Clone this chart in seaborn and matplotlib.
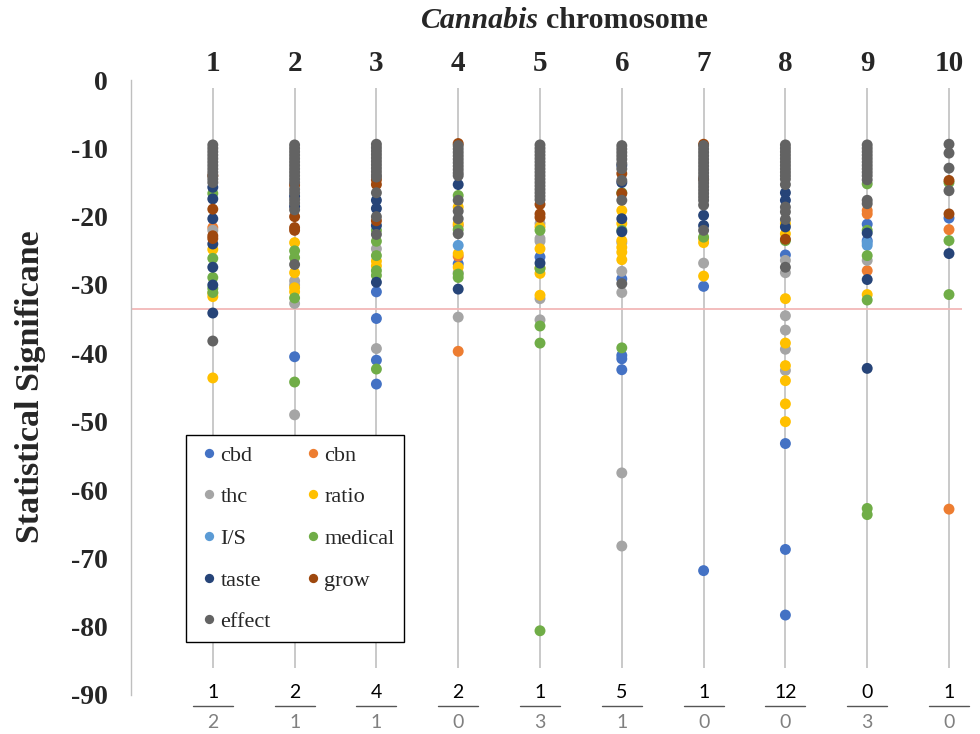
import matplotlib
matplotlib.use("Agg")
import matplotlib.pyplot as plt
import seaborn as sns
import pandas as pd
from matplotlib import transforms
from matplotlib.lines import Line2D

# ---------------- data ----------------
chromosomes = [1, 2, 3, 4, 5, 6, 7, 8, 9, 10]
series_names = ["cbd", "cbn", "thc", "ratio", "I/S", "medical", "taste", "grow", "effect"]
series_colors = ["#4472C4", "#ED7D31", "#A5A5A5", "#FFC000", "#5B9BD5",
                 "#70AD47", "#264478", "#9E480E", "#636363"]

cbd_points = [(2, -40.5), (3, -31.0), (3, -34.9), (3, -41.0), (3, -44.5), (4, -26.9),
              (5, -25.9), (6, -29.1), (6, -40.3), (6, -40.8), (6, -42.4), (7, -30.2),
              (7, -71.8), (8, -25.6), (8, -53.2), (8, -68.7), (8, -78.3), (9, -21.1),
              (9, -23.5), (10, -20.2)]
cbn_points = [(1, -21.6), (4, -21.3), (4, -25.8), (4, -39.7), (9, -19.1), (9, -19.6),
              (9, -27.9), (10, -21.9), (10, -62.8)]
thc_points = [(1, -22.0), (2, -29.4), (2, -30.0), (2, -32.7), (2, -49.0), (3, -24.7),
              (3, -39.3), (4, -28.2), (4, -34.7), (5, -21.0), (5, -23.2), (5, -23.6),
              (5, -32.0), (5, -35.1), (6, -23.8), (6, -28.0), (6, -31.1), (6, -57.5),
              (6, -68.2), (7, -26.8), (8, -26.4), (8, -28.2), (8, -34.5), (8, -36.6),
              (8, -39.4), (8, -42.5), (9, -26.4)]
ratio_points = [(1, -24.8), (1, -31.2), (1, -31.7), (1, -43.6), (2, -23.8), (2, -28.2),
                (2, -30.4), (2, -31.0), (3, -26.5), (3, -27.2), (4, -18.6), (4, -21.0),
                (4, -25.4), (4, -27.4), (5, -21.5), (5, -24.7), (5, -27.5), (5, -28.3),
                (5, -31.5), (6, -19.1), (6, -21.0), (6, -23.5), (6, -24.5), (6, -25.2),
                (6, -26.3), (7, -23.2), (7, -23.8), (7, -28.7), (8, -21.0), (8, -22.5),
                (8, -32.0), (8, -38.5), (8, -41.8), (8, -44.0), (8, -47.4), (8, -50.0),
                (9, -31.4)]
is_points = [(4, -24.2), (9, -23.8), (9, -24.2)]
medical_points = [(1, -16.6), (1, -26.1), (1, -28.9), (1, -30.5), (1, -31.1), (2, -25.0),
                  (2, -26.0), (2, -31.9), (2, -44.2), (3, -22.0), (3, -23.6), (3, -25.7),
                  (3, -27.9), (3, -28.6), (3, -42.3), (4, -16.9), (4, -21.9), (4, -28.4),
                  (4, -28.9), (5, -22.0), (5, -27.6), (5, -36.0), (5, -38.5), (5, -80.6),
                  (6, -16.5), (6, -22.0), (6, -39.2), (7, -23.0), (8, -23.5), (9, -15.2),
                  (9, -22.0), (9, -25.7), (9, -32.2), (9, -62.7), (9, -63.6), (10, -15.0),
                  (10, -23.5), (10, -31.4)]
taste_points = [(1, -15.7), (1, -17.4), (1, -20.3), (1, -24.0), (1, -27.4), (1, -30.0),
                (1, -34.1), (2, -17.0), (2, -18.5), (3, -17.6), (3, -18.8), (3, -21.3),
                (3, -29.6), (4, -15.3), (4, -30.6), (5, -26.8), (6, -12.5), (6, -15.0),
                (6, -20.3), (6, -22.2), (7, -19.8), (7, -21.3), (8, -16.5), (8, -17.6),
                (8, -21.5), (9, -22.4), (9, -29.2), (9, -42.2), (10, -25.4)]
grow_points = [(1, -14.0), (1, -18.9), (1, -22.8), (1, -23.2), (2, -15.4), (2, -20.0),
               (2, -21.6), (2, -22.0), (3, -14.6), (3, -15.3), (3, -20.6), (4, -9.3),
               (5, -18.2), (5, -19.6), (5, -20.1), (6, -13.7), (6, -16.6), (7, -9.4),
               (7, -14.5), (8, -23.3), (10, -14.7), (10, -19.6)]
effect_points = [
    (1, -9.5), (1, -10.0), (1, -10.5), (1, -11.0), (1, -11.5), (1, -12.0), (1, -12.5),
    (1, -13.0), (1, -13.5), (1, -14.0), (1, -14.5), (1, -15.0), (1, -38.2),
    (2, -9.5), (2, -10.0), (2, -10.5), (2, -11.0), (2, -11.5), (2, -12.0), (2, -12.5),
    (2, -13.0), (2, -13.5), (2, -14.0), (2, -14.5), (2, -15.0), (2, -16.0), (2, -16.5),
    (2, -17.5), (2, -18.0), (2, -19.0), (2, -27.0),
    (3, -9.4), (3, -9.9), (3, -10.4), (3, -10.9), (3, -11.4), (3, -11.9), (3, -12.4),
    (3, -12.9), (3, -13.4), (3, -13.9), (3, -14.2), (3, -16.5), (3, -20.0), (3, -22.6),
    (4, -9.6), (4, -10.1), (4, -10.6), (4, -11.1), (4, -11.6), (4, -12.1), (4, -12.6),
    (4, -13.1), (4, -13.6), (4, -14.0), (4, -17.6), (4, -19.2), (4, -20.3), (4, -22.5),
    (5, -9.5), (5, -10.0), (5, -10.5), (5, -11.0), (5, -11.5), (5, -12.0), (5, -12.5),
    (5, -13.0), (5, -13.5), (5, -14.0), (5, -14.5), (5, -15.0), (5, -15.5), (5, -16.0),
    (5, -16.5), (5, -17.0), (5, -17.5),
    (6, -9.6), (6, -10.1), (6, -10.6), (6, -11.1), (6, -11.6), (6, -12.2), (6, -13.0),
    (6, -14.7), (6, -17.6), (6, -29.8),
    (7, -9.6), (7, -10.1), (7, -10.6), (7, -11.1), (7, -11.6), (7, -12.1), (7, -12.6),
    (7, -13.1), (7, -13.6), (7, -14.1), (7, -14.6), (7, -15.1), (7, -15.6), (7, -16.1),
    (7, -16.6), (7, -17.1), (7, -17.6), (7, -18.3), (7, -22.0),
    (8, -9.5), (8, -10.0), (8, -10.5), (8, -11.0), (8, -11.5), (8, -12.0), (8, -12.5),
    (8, -13.0), (8, -13.5), (8, -14.0), (8, -14.5), (8, -15.3), (8, -18.6), (8, -19.3),
    (8, -20.4), (8, -27.4),
    (9, -9.5), (9, -10.0), (9, -10.5), (9, -11.0), (9, -11.5), (9, -12.0), (9, -12.5),
    (9, -13.0), (9, -13.5), (9, -14.0), (9, -14.6), (9, -17.6), (9, -18.1),
    (10, -9.4), (10, -10.7), (10, -12.9), (10, -16.2)]

numerators = [1, 2, 4, 2, 1, 5, 1, 12, 0, 1]
denominators = [2, 1, 1, 0, 3, 1, 0, 0, 3, 0]
threshold = -33.5
y_ticks = [0, -10, -20, -30, -40, -50, -60, -70, -80, -90]

# ---------------- build table ----------------
all_points = [cbd_points, cbn_points, thc_points, ratio_points, is_points,
              medical_points, taste_points, grow_points, effect_points]
rows = []
for name, pts in zip(series_names, all_points):
    for c, v in pts:
        rows.append({"chrom": c, "value": v, "series": name})
df = pd.DataFrame(rows)

# ---------------- plot ----------------
sns.set_theme(style="white")
plt.rcParams["font.family"] = ["Liberation Serif", "DejaVu Serif"]

W, H = 980, 734
fig = plt.figure(figsize=(W / 100, H / 100), dpi=100)
ax_left, ax_right, ax_top, ax_bot = 131, 962, 80, 695
ax = fig.add_axes([ax_left / W, (H - ax_bot) / H, (ax_right - ax_left) / W, (ax_bot - ax_top) / H])
ax.set_xlim(0, (ax_right - ax_left) / 81.8)
ax.set_ylim(-90, 0)

# chromosome guide lines
ax.vlines(chromosomes, -86.1, -1.2, color="#C9C9C9", linewidth=1.4, zorder=1)
# threshold line
ax.axhline(threshold, color="#F2B8B8", linewidth=1.3, zorder=1)

palette = dict(zip(series_names, series_colors))
sns.scatterplot(data=df, x="chrom", y="value", hue="series", hue_order=series_names,
                palette=palette, s=62, linewidth=0, edgecolor="none", ax=ax, zorder=3)

# legend (row-wise order like the reference)
handles, labels = ax.get_legend_handles_labels()
hmap = dict(zip(labels, handles))
order = ["cbd", "thc", "I/S", "taste", "effect", "cbn", "ratio", "medical", "grow"]
leg = ax.legend([hmap[k] for k in order], order, ncol=2, loc="upper left",
                bbox_to_anchor=(186 / W, 1 - 435 / H), bbox_transform=fig.transFigure,
                borderaxespad=0.0,
                frameon=True, fancybox=False, edgecolor="black", framealpha=1,
                fontsize=16, markerscale=0.85, handletextpad=-0.1, handlelength=1.2,
                columnspacing=1.3, labelspacing=0.95, borderpad=0.45)
leg.get_frame().set_linewidth(1.0)

# axes styling
for s in ["top", "right", "bottom"]:
    ax.spines[s].set_visible(False)
ax.spines["left"].set_color("#BFBFBF")
ax.spines["left"].set_linewidth(1.0)
ax.set_xlabel("")
ax.set_ylabel("")
ax.set_yticks(y_ticks)
ax.set_yticklabels([str(t) for t in y_ticks], fontweight="bold", fontsize=20)
ax.tick_params(axis="y", length=0, pad=17)
ax.xaxis.tick_top()
ax.set_xticks(chromosomes)
ax.set_xticklabels([str(c) for c in chromosomes], fontweight="bold", fontsize=21)
ax.tick_params(axis="x", length=0, pad=2)

# title
fig.text(539 / W, 1 - 21 / H, "Cannabis", fontsize=21.5, fontweight="bold",
         fontstyle="italic", ha="right", va="center")
fig.text(546 / W, 1 - 21 / H, "chromosome", fontsize=21.5, fontweight="bold",
         ha="left", va="center")
# y label
fig.text(31 / W, 1 - 387 / H, "Statistical Significane", fontsize=24.5, fontweight="bold",
         rotation=90, ha="center", va="center")

# bottom fractions
tr = transforms.blended_transform_factory(ax.transData, fig.transFigure)
for c, n, d in zip(chromosomes, numerators, denominators):
    ax.text(c, 1 - 692 / H, str(n), transform=tr, ha="center", va="center",
            fontsize=14, color="black", family="Lato", clip_on=False)
    ax.text(c, 1 - 722 / H, str(d), transform=tr, ha="center", va="center",
            fontsize=14, color="#808080", family="Lato", clip_on=False)
    ln = Line2D([c - 0.245, c + 0.245], [1 - 706 / H, 1 - 706 / H], transform=tr,
                color="#555555", linewidth=1.0, clip_on=False)
    ax.add_line(ln)

fig.savefig("out.png", dpi=100)
